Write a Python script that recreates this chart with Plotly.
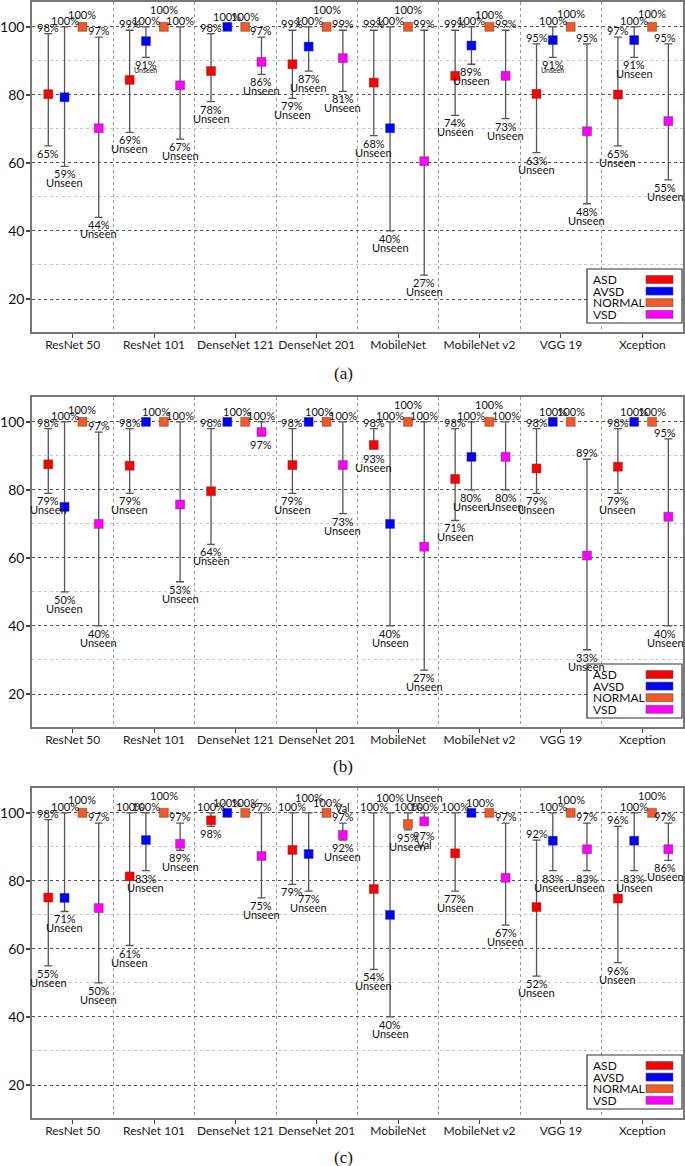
import plotly.graph_objects as go

W, H = 685, 1166

MODELS = ["ResNet 50", "ResNet 101", "DenseNet 121", "DenseNet 201",
          "MobileNet", "MobileNet v2", "VGG 19", "Xception"]
SERIES = ["ASD", "AVSD", "NORMAL", "VSD"]
COLORS = ["#FF0000", "#0000FF", "#F15A24", "#FF00FF"]

# ---------------- panel (a) ----------------
A_VAL = {
    "ASD":    [80.2, 84.4, 87.0, 89.0, 83.6, 85.6, 80.3, 80.1],
    "AVSD":   [79.3, 95.8, 100, 94.2, 70.2, 94.5, 96.1, 96.1],
    "NORMAL": [100, 100, 100, 100, 100, 100, 100, 100],
    "VSD":    [70.2, 82.8, 89.7, 90.8, 60.5, 85.6, 69.3, 72.3],
}
A_HI = {
    "ASD":    [98, 99, 98, 99, 99, 99, 95, 97],
    "AVSD":   [100, 100, 100, 100, 100, 100, 100, 100],
    "NORMAL": [100, 100, 100, 100, 100, 100, 100, 100],
    "VSD":    [97, 100, 97, 99, 99, 99, 95, 95],
}
A_LO = {
    "ASD":    [65, 69, 78, 79, 68, 74, 63, 65],
    "AVSD":   [59, 91, None, 87, 40, 89, 91, 91],
    "NORMAL": [None, None, None, None, None, None, None, None],
    "VSD":    [44, 67, 86, 81, 27, 73, 48, 55],
}
A_NOTE_LO = {
    "ASD":    ["", "Unseen", "Unseen", "Unseen", "Unseen", "Unseen", "Unseen", "Unseen"],
    "AVSD":   ["Unseen", "Unseen_s", "", "Unseen", "Unseen", "Unseen", "Unseen_s", "Unseen"],
    "NORMAL": ["", "", "", "", "", "", "", ""],
    "VSD":    ["Unseen", "Unseen", "Unseen", "Unseen", "Unseen", "Unseen", "Unseen", "Unseen"],
}
A_NOTE_HI = {s: [""] * 8 for s in SERIES}

# ---------------- panel (b) ----------------
B_VAL = {
    "ASD":    [87.5, 87.1, 79.6, 87.3, 93.2, 83.2, 86.3, 86.8],
    "AVSD":   [75, 100, 100, 100, 70, 89.7, 100, 100],
    "NORMAL": [100, 100, 100, 100, 100, 100, 100, 100],
    "VSD":    [70, 75.7, 97, 87.3, 63.3, 89.7, 60.7, 72.1],
}
B_HI = {
    "ASD":    [98, 98, 98, 98, 98, 98, 98, 98],
    "AVSD":   [100, 100, 100, 100, 100, 100, 100, 100],
    "NORMAL": [100, 100, 100, 100, 100, 100, 100, 100],
    "VSD":    [97, 100, 100, 100, 100, 100, 89, 95],
}
B_LO = {
    "ASD":    [79, 79, 64, 79, 93, 71, 79, 79],
    "AVSD":   [50, None, None, None, 40, 80, None, None],
    "NORMAL": [None, None, None, None, None, None, None, None],
    "VSD":    [40, 53, 97, 73, 27, 80, 33, 40],
}
B_NOTE_LO = {
    "ASD":    ["Unseen"] * 8,
    "AVSD":   ["Unseen", "", "", "", "Unseen", "Unseen", "", ""],
    "NORMAL": [""] * 8,
    "VSD":    ["Unseen", "Unseen", "", "Unseen", "Unseen", "Unseen", "Unseen", "Unseen"],
}
B_NOTE_HI = {s: [""] * 8 for s in SERIES}

# ---------------- panel (c) ----------------
C_VAL = {
    "ASD":    [75.1, 81.3, 97.8, 89.1, 77.6, 88.1, 72.3, 74.8],
    "AVSD":   [75, 92, 100, 87.9, 70, 100, 91.8, 91.8],
    "NORMAL": [100, 100, 100, 100, 96.7, 100, 100, 100],
    "VSD":    [72, 90.9, 87.3, 93.5, 97.5, 80.9, 89.3, 89.3],
}
C_HI = {
    "ASD":    [98, 100, 100, 100, 100, 100, 92, 96],
    "AVSD":   [100, 100, 100, 100, 100, 100, 100, 100],
    "NORMAL": [100, 100, 100, 100, 100, 100, 100, 100],
    "VSD":    [97, 97, 100, 97, 100, 97, 97, 97],
}
C_LO = {
    "ASD":    [55, 61, 96, 79, 54, 77, 52, 56],
    "AVSD":   [71, 83, None, 77, 40, None, 83, 83],
    "NORMAL": [None, None, None, None, 95, None, None, None],
    "VSD":    [50, 89, 75, 92, 97, 67, 83, 86],
}
C_NOTE_LO = {
    "ASD":    ["Unseen", "Unseen", "", "", "Unseen", "Unseen", "Unseen", "Unseen"],
    "AVSD":   ["Unseen"] * 8,
    "NORMAL": ["", "", "", "", "Unseen", "", "", ""],
    "VSD":    ["Unseen", "Unseen", "Unseen", "Unseen", "Val", "Unseen", "Unseen", "Unseen"],
}
C_NOTE_HI = {
    "ASD":    [""] * 8,
    "AVSD":   [""] * 8,
    "NORMAL": [""] * 8,
    "VSD":    ["", "", "", "Val", "Unseen", "", "", ""],
}
# printed label text that differs from the drawn whisker end
C_TEXT_OVERRIDE = {(2, "ASD", "lo"): "98%", (7, "ASD", "lo"): "96%", (2, "VSD", "hi"): "97%"}

PANELS = [
    dict(val=A_VAL, hi=A_HI, lo=A_LO, nlo=A_NOTE_LO, nhi=A_NOTE_HI, over={}, cap="(a)"),
    dict(val=B_VAL, hi=B_HI, lo=B_LO, nlo=B_NOTE_LO, nhi=B_NOTE_HI, over={}, cap="(b)"),
    dict(val=C_VAL, hi=C_HI, lo=C_LO, nlo=C_NOTE_LO, nhi=C_NOTE_HI, over=C_TEXT_OVERRIDE, cap="(c)"),
]

# label placement tweaks (style only): (panel, model, series) -> raise px / hide / dx
TWEAK = {
    (0, 0, "NORMAL"): dict(up=2), (0, 1, "NORMAL"): dict(up=7), (0, 3, "NORMAL"): dict(up=7),
    (0, 4, "NORMAL"): dict(up=7), (0, 5, "NORMAL"): dict(up=2), (0, 6, "NORMAL"): dict(up=3),
    (0, 7, "NORMAL"): dict(up=3),
    (1, 0, "NORMAL"): dict(up=2), (1, 4, "NORMAL"): dict(up=7), (1, 5, "NORMAL"): dict(up=7),
    (1, 1, "AVSD"): dict(hide=True), (1, 2, "AVSD"): dict(hide=True), (1, 3, "AVSD"): dict(hide=True),
    (1, 1, "NORMAL"): dict(dx=-8), (1, 2, "NORMAL"): dict(dx=-8), (1, 3, "NORMAL"): dict(dx=-8),
    (2, 0, "NORMAL"): dict(up=3), (2, 1, "NORMAL"): dict(up=7), (2, 7, "NORMAL"): dict(up=7),
    (2, 6, "NORMAL"): dict(up=3), (2, 3, "AVSD"): dict(up=9), (2, 4, "AVSD"): dict(up=9),
    (2, 5, "AVSD"): dict(hide=True), (2, 5, "NORMAL"): dict(dx=-9),
}

OFFSETS = [-0.30, -0.10, 0.12, 0.32]
PANEL_TOP = [2, 397, 788]
PANEL_H = 330
X_LEFT, X_RIGHT = 32, 683
CAPTION_Y = [373, 766, 1157]
YRANGE = [10.3, 107.3]

LAB_FONT = dict(family="Lato, sans-serif", size=11, color="#111")


def px_x(x):
    return x / W


def px_y(y):
    return 1 - y / H


fig = go.Figure()
annotations = []
shapes = []
layout_axes = {}

for p, pan in enumerate(PANELS):
    xa = "x" if p == 0 else f"x{p + 1}"
    ya = "y" if p == 0 else f"y{p + 1}"
    xkey = "xaxis" if p == 0 else f"xaxis{p + 1}"
    ykey = "yaxis" if p == 0 else f"yaxis{p + 1}"
    top, bot = PANEL_TOP[p], PANEL_TOP[p] + PANEL_H

    for s, name in enumerate(SERIES):
        xs = [i + OFFSETS[s] for i in range(len(MODELS))]
        v = pan["val"][name]
        hi = pan["hi"][name]
        lo = pan["lo"][name]
        plus = [max(0, h - vv) for h, vv in zip(hi, v)]
        minus = [max(0, vv - l) if l is not None else 0 for vv, l in zip(v, lo)]
        fig.add_trace(go.Scatter(
            x=xs, y=v, mode="markers", name=name, showlegend=False,
            xaxis=xa, yaxis=ya,
            marker=dict(symbol="square", size=9, color=COLORS[s],
                        line=dict(color="rgba(60,60,60,0.6)", width=0.7)),
            error_y=dict(type="data", symmetric=False, array=plus, arrayminus=minus,
                         color="#555", thickness=1.3, width=4),
        ))

        for i in range(len(MODELS)):
            tw = TWEAK.get((p, i, name), {})
            edge_dx = -3 if xs[i] > len(MODELS) - 0.75 else 0
            # top label
            if not tw.get("hide"):
                txt = pan["over"].get((i, name, "hi"), f"{hi[i]}%")
                shift = (4 if hi[i] - v[i] < 0.6 else 0) + tw.get("up", 0) - 2
                annotations.append(dict(
                    x=xs[i], y=hi[i], xref=xa, yref=ya, text=txt, showarrow=False,
                    yanchor="bottom", xanchor="center", yshift=shift,
                    xshift=tw.get("dx", 0) + edge_dx, font=LAB_FONT))
                note = pan["nhi"][name][i]
                if note:
                    annotations.append(dict(
                        x=xs[i], y=hi[i], xref=xa, yref=ya, text=note, showarrow=False,
                        yanchor="bottom", xanchor="center", yshift=shift + 9,
                        xshift=tw.get("dx", 0) + edge_dx, font=LAB_FONT))
            # bottom label
            if lo[i] is not None:
                txt = pan["over"].get((i, name, "lo"), f"{lo[i]}%")
                shift = 5 if v[i] - lo[i] < 0.6 else 0
                annotations.append(dict(
                    x=xs[i], y=lo[i], xref=xa, yref=ya, text=txt, showarrow=False,
                    yanchor="top", xanchor="center", yshift=-shift + 1,
                    xshift=edge_dx, font=LAB_FONT))
                note = pan["nlo"][name][i]
                if note:
                    small = note.endswith("_s")
                    f = dict(LAB_FONT)
                    if small:
                        f["size"] = 7
                    annotations.append(dict(
                        x=xs[i], y=lo[i], xref=xa, yref=ya, text=note.replace("_s", ""),
                        showarrow=False, yanchor="top", xanchor="center", xshift=edge_dx,
                        yshift=-shift + 1 - (8 if small else 9), font=f))

    layout_axes[xkey] = dict(
        domain=[px_x(X_LEFT), px_x(X_RIGHT)], anchor=ya, range=[-0.5, len(MODELS) - 0.5],
        tickmode="array", tickvals=list(range(len(MODELS))), ticktext=MODELS, tickangle=0,
        ticks="outside", ticklen=4, tickcolor="#444", showgrid=False, zeroline=False,
        showline=True, linecolor="#777", linewidth=1.5, mirror=True, automargin=False,
        ticklabelstandoff=-3,
        tickfont=dict(family="Lato, sans-serif", size=12, color="#222"),
        minor=dict(tickmode="array", tickvals=[i + 0.5 for i in range(len(MODELS) - 1)],
                   showgrid=True, gridcolor="#999", griddash="dot", gridwidth=1, ticks=""),
    )
    layout_axes[ykey] = dict(
        domain=[px_y(bot), px_y(top)], anchor=xa, range=YRANGE,
        tickmode="array", tickvals=[20, 40, 60, 80, 100],
        ticks="outside", ticklen=4, tickcolor="#444", tickwidth=1.5,
        showgrid=True, gridcolor="#555", griddash="dot", gridwidth=1, zeroline=False,
        showline=True, linecolor="#777", linewidth=1.5, mirror=True, automargin=False,
        ticklabelstandoff=-1,
        tickfont=dict(family="Lato, sans-serif", size=14, color="#111"),
        minor=dict(tickmode="array", tickvals=[30, 50, 70, 90], showgrid=True,
                   gridcolor="#c8c8c8", griddash="dot", gridwidth=1, ticks=""),
    )

    # custom legend box (text left, swatch right)
    d = top - 2
    shapes.append(dict(type="rect", xref="paper", yref="paper",
                       x0=px_x(587), x1=px_x(682), y0=px_y(323 + d), y1=px_y(269 + d),
                       line=dict(color="#333", width=1.2), fillcolor="white", layer="above"))
    for s, name in enumerate(SERIES):
        yc = 279.5 + 11.6 * s + d
        annotations.append(dict(x=px_x(591), y=px_y(yc), xref="paper", yref="paper",
                                text=name, showarrow=False, xanchor="left", yanchor="middle",
                                font=dict(family="Lato, sans-serif", size=12, color="#111")))
        shapes.append(dict(type="rect", xref="paper", yref="paper",
                           x0=px_x(646), x1=px_x(673), y0=px_y(yc + 4), y1=px_y(yc - 4),
                           line=dict(color="#555", width=0.6), fillcolor=COLORS[s], layer="above"))

    annotations.append(dict(x=px_x(343), y=px_y(CAPTION_Y[p]), xref="paper", yref="paper",
                            text=pan["cap"], showarrow=False, xanchor="center", yanchor="middle",
                            font=dict(family="Liberation Serif, serif", size=17, color="#111")))

fig.update_layout(
    width=W, height=H, margin=dict(l=0, r=0, t=0, b=0, autoexpand=False),
    paper_bgcolor="white", plot_bgcolor="white",
    annotations=annotations, shapes=shapes, showlegend=False,
    **layout_axes,
)

fig.write_html("out.html", config={"displayModeBar": False},
               post_script="document.body.style.margin='0';document.body.style.padding='0';")
